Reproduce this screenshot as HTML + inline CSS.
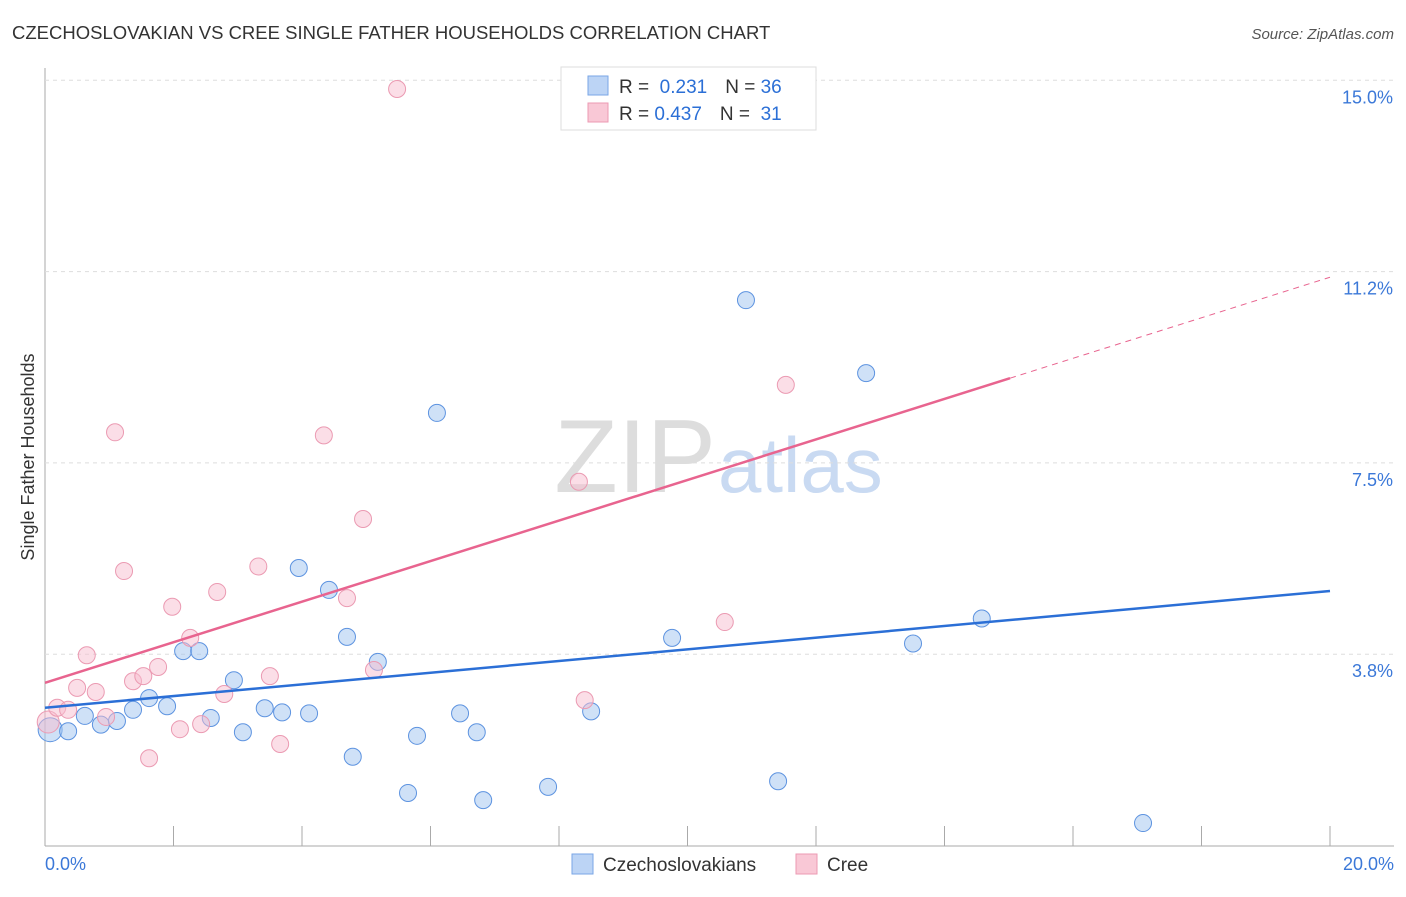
<!DOCTYPE html>
<html><head><meta charset="utf-8"><style>
body{margin:0;background:#fff;font-family:"Liberation Sans",sans-serif;}
svg text{font-family:"Liberation Sans",sans-serif;}
</style></head><body>
<svg id="chart" width="1406" height="892">
<text x="12" y="39" font-size="18.5" fill="#333">CZECHOSLOVAKIAN VS CREE SINGLE FATHER HOUSEHOLDS CORRELATION CHART</text>
<text x="1394" y="39" font-size="15" fill="#555" font-style="italic" text-anchor="end">Source: ZipAtlas.com</text>
<text x="716" y="492" font-size="104" fill="#ddd" font-family="Liberation Serif" text-anchor="end">ZIP</text>
<text x="718" y="492" font-size="78" fill="#c9daf2">atlas</text>
<text transform="translate(34,457) rotate(-90)" font-size="18" fill="#333" text-anchor="middle">Single Father Households</text>
<g id="grid"></g><g id="marks"></g>
<g>
<rect x="561" y="67" width="255" height="63" fill="#fff" stroke="#ddd"/>
<rect x="588" y="76" width="20" height="19" fill="#bcd4f5" stroke="#7aa6e6"/>
<rect x="588" y="103" width="20" height="19" fill="#f9c8d6" stroke="#ec9ab3"/>
<text x="619" y="93" font-size="19" fill="#333">R = <tspan fill="#2b6fd6">&#160;0.231</tspan><tspan dx="18">N = </tspan><tspan fill="#2b6fd6">36</tspan></text>
<text x="619" y="120" font-size="19" fill="#333">R = <tspan fill="#2b6fd6">0.437</tspan><tspan dx="18">N = </tspan><tspan fill="#2b6fd6">&#160;31</tspan></text>
</g>
<g>
<rect x="572" y="854" width="21" height="20" fill="#bcd4f5" stroke="#7aa6e6"/>
<text x="603" y="871" font-size="19" fill="#333">Czechoslovakians</text>
<rect x="796" y="854" width="21" height="20" fill="#f9c8d6" stroke="#ec9ab3"/>
<text x="827" y="871" font-size="19" fill="#333">Cree</text>
</g>
</svg>
<script>
const xTicks=[2,4,6,8,10,12,14,16,18,20];
const yTicks=[3.75,7.5,11.25,15];
const yTickLabels=["3.8%","7.5%","11.2%","15.0%"];
const czX=[0.08,0.36,0.62,0.87,1.12,1.37,1.62,1.90,2.15,2.40,2.58,2.94,3.08,3.42,3.69,4.11,3.95,4.42,4.70,4.79,5.18,5.65,5.79,6.10,6.46,6.72,6.82,7.83,8.50,9.76,10.91,11.41,12.78,13.51,14.58,17.09];
const czY=[2.27,2.24,2.54,2.37,2.44,2.66,2.89,2.73,3.81,3.81,2.50,3.24,2.22,2.69,2.61,2.59,5.44,5.01,4.09,1.74,3.60,1.03,2.15,8.48,2.59,2.22,0.89,1.15,2.63,4.07,10.69,1.26,9.26,3.96,4.45,0.44];
const crX=[0.05,0.19,0.36,0.50,0.65,0.79,0.95,1.09,1.23,1.37,1.53,1.62,1.76,1.98,2.10,2.26,2.43,2.68,2.79,3.32,3.50,3.66,4.34,4.70,4.95,5.12,5.48,8.31,8.40,10.58,11.53];
const crY=[2.42,2.70,2.66,3.09,3.73,3.01,2.52,8.10,5.38,3.22,3.32,1.71,3.50,4.68,2.28,4.07,2.38,4.97,2.97,5.47,3.32,1.99,8.04,4.85,6.40,3.44,14.83,7.13,2.85,4.38,9.03];
const czTrend=[2.70,4.99];
const crTrend=[3.19,11.14];
const crSolidEnd=15.02;
const NS="http://www.w3.org/2000/svg";
const X=v=>45+v/20*1285, Y=v=>845.5-v/3.75*191.3;
function mk(t,a,p){const e=document.createElementNS(NS,t);for(const k in a)e.setAttribute(k,a[k]);p.appendChild(e);return e;}
const g=document.getElementById('grid'), m=document.getElementById('marks');
const ax=mk('line',{x1:45,y1:68,x2:45,y2:846,stroke:'#aaa'},g);


const bx=mk('line',{x1:45,y1:846,x2:1394,y2:846,stroke:'#aaa'},g);


yTicks.forEach((v,i)=>{
 const l=mk('line',{x1:45,x2:1394,y1:Y(v),y2:Y(v),stroke:'#ddd','stroke-dasharray':'4,4'},g);
 
 
 const t=mk('text',{x:1393,y:Y(v)+23,'font-size':18,fill:'#3b78d8','text-anchor':'end'},g);t.textContent=yTickLabels[i];
 
 
});
xTicks.forEach(v=>{
 const l=mk('line',{x1:X(v),x2:X(v),y1:826,y2:846,stroke:'#aaa'},g);
 
 
});
[[0,"0.0%",'start',45],[20,"20.0%",'end',1394]].forEach(a=>{
 const t=mk('text',{x:a[3],y:870,'font-size':18,fill:'#3b78d8','text-anchor':a[2]},g);t.textContent=a[1];
 
 
});
czX.forEach((v,i)=>{
 const c=mk('circle',{cx:X(v),cy:Y(czY[i]),r:i==0?12:8.5,fill:'rgba(160,196,240,0.5)',stroke:'#5d93e0','stroke-width':1},m);
 
 
});
crX.forEach((v,i)=>{
 const c=mk('circle',{cx:X(v),cy:Y(crY[i]),r:i==0?11:8.5,fill:'rgba(248,190,208,0.5)',stroke:'#eb9ab2','stroke-width':1},m);
 
 
});
const crAt=v=>crTrend[0]+(crTrend[1]-crTrend[0])*v/20;
const l1=mk('line',{x1:X(0),y1:Y(czTrend[0]),x2:X(20),y2:Y(czTrend[1]),stroke:'#2b6fd6','stroke-width':2.5},m);


const l2=mk('line',{x1:X(0),y1:Y(crAt(0)),x2:X(crSolidEnd),y2:Y(crAt(crSolidEnd)),stroke:'#e8648f','stroke-width':2.5},m);


const l3=mk('line',{x1:X(crSolidEnd),y1:Y(crAt(crSolidEnd)),x2:X(20),y2:Y(crAt(20)),stroke:'#e8648f','stroke-width':1,'stroke-dasharray':'6,5'},m);


</script>
</body></html>
